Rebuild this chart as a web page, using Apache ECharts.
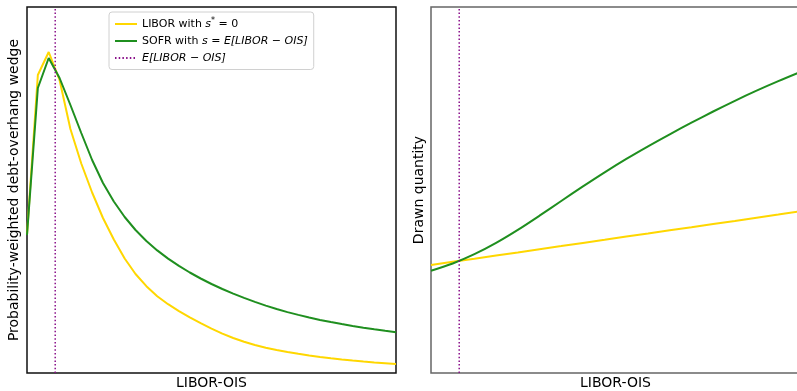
<!DOCTYPE html>
<html>
<head>
<meta charset="utf-8">
<script src="https://cdn.jsdelivr.net/npm/echarts@6/dist/echarts.min.js"></script>
<style>
  html, body { margin: 0; padding: 0; background: #fff; }
  #chart { width: 797px; height: 391px; }
</style>
</head>
<body>
<div id="chart"></div>
<script>
// spread grid (LIBOR-OIS), arbitrary units, shared by both panels
var spreadGrid = [0, 1, 2, 3, 4, 5, 6, 7, 8, 9, 10, 11, 12, 13, 14, 15, 16,
    17, 18, 19, 20, 21, 22, 23, 24, 25, 26, 27, 28, 29, 30, 31, 32, 33, 34];
var meanSpread = 2.6;

// left panel: probability-weighted debt-overhang wedge
var wedgeLibor = [138, 298, 321, 293, 244, 209.5, 180.5, 155, 133.5, 114.5, 99, 86.8,
    76.8, 68.8, 61.9, 55.6, 49.8, 44.4, 39.4, 35, 31.2, 28, 25.3, 23, 21, 19.2, 17.6,
    16.1, 14.8, 13.6, 12.5, 11.5, 10.6, 9.8, 9];
var wedgeSofr = [138, 285, 315, 295, 268, 240, 213, 190, 171.5, 156, 143, 132, 122.6,
    114.4, 107.1, 100.5, 94.5, 89, 84, 79.4, 75.1, 71.1, 67.4, 64, 60.9, 58.1, 55.5,
    53.1, 50.9, 48.9, 47.05, 45.35, 43.75, 42.25, 40.8];

// right panel: drawn quantity
var drawnGrid = [0, 2, 4, 6, 8, 10, 12, 14, 16, 18, 20, 22, 24, 26, 28, 30, 32, 34];
var drawnSofr = [102.3, 109.5, 118.8, 130.1, 143.1, 157.3, 172, 186.6, 200.7, 214.1,
    226.7, 238.7, 250.3, 261.5, 272.2, 282.3, 291.8, 300.8];
var drawnLibor = [108, 111.2, 114.3, 117.5, 120.6, 123.8, 126.9, 130.1, 133.2, 136.4,
    139.5, 142.7, 145.8, 149, 152.1, 155.3, 158.4, 161.6];

var yMax = 366;
var names = ['LIBOR with s* = 0', 'SOFR with s = E[LIBOR − OIS]', 'E[LIBOR − OIS]'];
var colors = { libor: '#FFD700', sofr: '#1f8f1f', mean: '#8a108a' };

function pairs(xs, ys) {
    return xs.map(function (x, i) { return [x, ys[i]]; });
}

var myChart = echarts.init(document.getElementById('chart'));

function xAxisOf(idx) {
    return {
        gridIndex: idx, type: 'value', min: 0, max: 34,
        name: 'LIBOR-OIS', nameLocation: 'middle', nameGap: 3,
        nameTextStyle: { fontFamily: 'DejaVu Sans', fontSize: 14, color: '#000' },
        axisLine: { show: false }, axisTick: { show: false },
        axisLabel: { show: false }, splitLine: { show: false }
    };
}
function yAxisOf(idx, label, gap) {
    return {
        gridIndex: idx, type: 'value', min: 0, max: yMax,
        name: label, nameLocation: 'middle', nameGap: gap,
        nameTextStyle: { fontFamily: 'DejaVu Sans', fontSize: 14, color: '#000' },
        axisLine: { show: false }, axisTick: { show: false },
        axisLabel: { show: false }, splitLine: { show: false }
    };
}
function line(name, xi, yi, data, color, type, smooth) {
    return {
        name: name, type: 'line', xAxisIndex: xi, yAxisIndex: yi,
        data: data, showSymbol: false, symbol: 'none', animation: false,
        smooth: smooth || false,
        lineStyle: { color: color, width: type ? 1.5 : 2, type: type || 'solid', cap: 'butt' },
        itemStyle: { color: color }
    };
}

var dots = [1.5, 2.2];

var option = {
    animation: false,
    grid: [
        { left: 27, top: 7, width: 369, height: 366, show: true, outerBoundsMode: 'none',
          borderColor: '#111', borderWidth: 1.5, backgroundColor: 'transparent' },
        { left: 431, top: 7, width: 369, height: 366, show: true, outerBoundsMode: 'none',
          borderColor: '#666', borderWidth: 1.5, backgroundColor: 'transparent' }
    ],
    xAxis: [xAxisOf(0), xAxisOf(1)],
    yAxis: [yAxisOf(0, 'Probability-weighted debt-overhang wedge', 6), yAxisOf(1, 'Drawn quantity', 5)],
    legend: {
        data: names, orient: 'vertical', left: 109, top: 12,
        itemWidth: 22, itemHeight: 10, itemGap: 6,
        padding: [5, 6, 6, 5],
        itemStyle: { color: 'transparent', borderWidth: 0, opacity: 0 },
        backgroundColor: '#fff', borderColor: '#d0d0d0', borderWidth: 1, borderRadius: 3,
        textStyle: {
            fontFamily: 'DejaVu Sans', fontSize: 11, color: '#000',
            rich: {
                n: { fontFamily: 'DejaVu Sans', fontSize: 11, color: '#000' },
                i: { fontFamily: 'DejaVu Sans', fontStyle: 'italic', fontSize: 11, color: '#000' },
                sup: { fontFamily: 'DejaVu Sans', fontSize: 8, color: '#000', padding: [0, 0, 6, 0] }
            }
        },
        formatter: function (name) {
            if (name === names[0]) return '{n|LIBOR with }{i|s}{sup|*}{n| = 0}';
            if (name === names[1]) return '{n|SOFR with }{i|s}{n| = }{i|E[LIBOR − OIS]}';
            return '{i|E[LIBOR − OIS]}';
        }
    },
    series: [
        line(names[0], 0, 0, pairs(spreadGrid, wedgeLibor), colors.libor),
        line(names[1], 0, 0, pairs(spreadGrid, wedgeSofr), colors.sofr),
        line(names[2], 0, 0, [[meanSpread, 0], [meanSpread, yMax]], colors.mean, dots),
        line(names[0], 1, 1, pairs(drawnGrid, drawnLibor), colors.libor),
        line(names[1], 1, 1, pairs(drawnGrid, drawnSofr), colors.sofr, null, 0.3),
        line(names[2], 1, 1, [[meanSpread, 0], [meanSpread, yMax]], colors.mean, dots)
    ]
};

myChart.setOption(option);
window.addEventListener('resize', function () {
    myChart.resize();
});
</script>
</body>
</html>
